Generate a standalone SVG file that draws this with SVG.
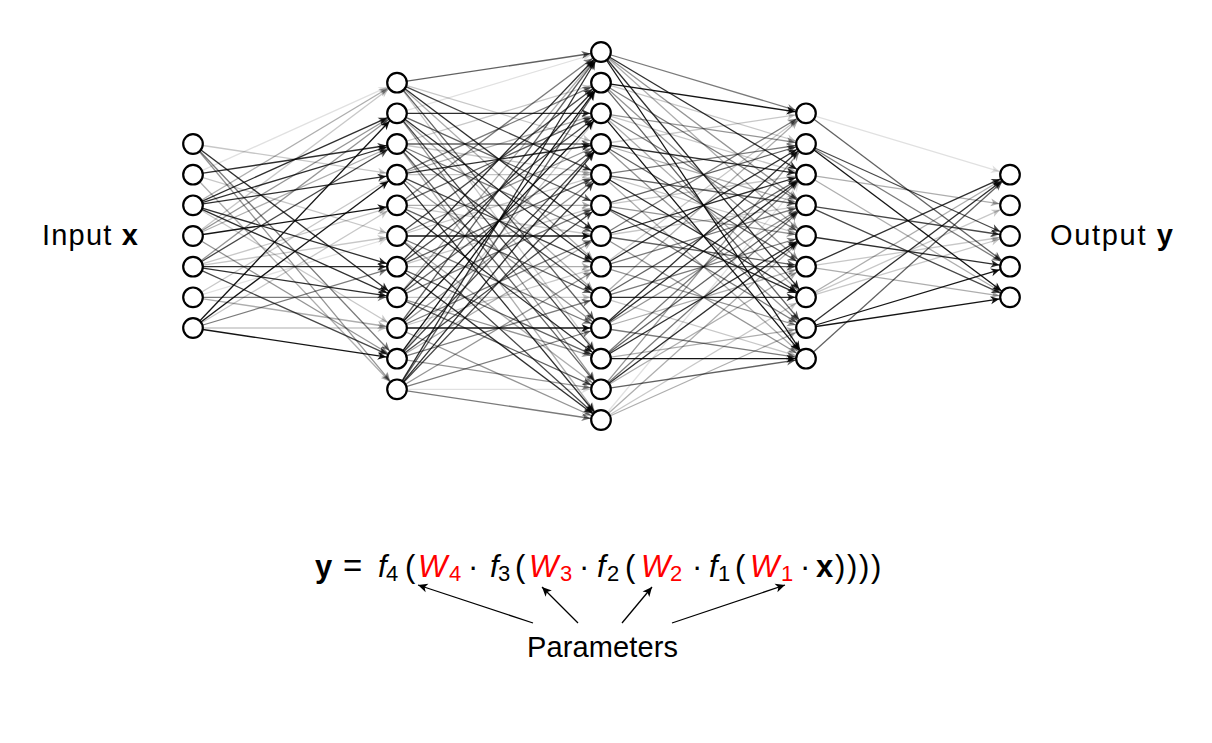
<svg xmlns="http://www.w3.org/2000/svg" width="1212" height="743" viewBox="0 0 1212 743">
<style>
.n{fill:#fff;stroke:#000;stroke-width:2.2}
#edges path{fill:none;stroke:#000;stroke-width:1.3}
.t{font-family:"Liberation Sans",Arial,sans-serif;font-size:29px;fill:#000}
.f{font-size:31px}
.i{font-style:italic}
.b{font-weight:bold}
.s{font-size:22px}
.r{fill:#ff0000}
.eq{font-size:33px}
#edges .pa{fill:none;stroke:#000;stroke-width:1.3;marker-end:url(#pt)}
</style>
<defs>
<marker id="a1" markerUnits="userSpaceOnUse" orient="auto" overflow="visible" markerWidth="1" markerHeight="1"><path d="M-10.8,0L-19.5,-4L-17,0L-19.5,4Z" fill="#000" fill-opacity="0.12"/></marker>
<marker id="a2" markerUnits="userSpaceOnUse" orient="auto" overflow="visible" markerWidth="1" markerHeight="1"><path d="M-10.8,0L-19.5,-4L-17,0L-19.5,4Z" fill="#000" fill-opacity="0.22"/></marker>
<marker id="a3" markerUnits="userSpaceOnUse" orient="auto" overflow="visible" markerWidth="1" markerHeight="1"><path d="M-10.8,0L-19.5,-4L-17,0L-19.5,4Z" fill="#000" fill-opacity="0.32"/></marker>
<marker id="a4" markerUnits="userSpaceOnUse" orient="auto" overflow="visible" markerWidth="1" markerHeight="1"><path d="M-10.8,0L-19.5,-4L-17,0L-19.5,4Z" fill="#000" fill-opacity="0.42"/></marker>
<marker id="a5" markerUnits="userSpaceOnUse" orient="auto" overflow="visible" markerWidth="1" markerHeight="1"><path d="M-10.8,0L-19.5,-4L-17,0L-19.5,4Z" fill="#000" fill-opacity="0.52"/></marker>
<marker id="a6" markerUnits="userSpaceOnUse" orient="auto" overflow="visible" markerWidth="1" markerHeight="1"><path d="M-10.8,0L-19.5,-4L-17,0L-19.5,4Z" fill="#000" fill-opacity="0.62"/></marker>
<marker id="a7" markerUnits="userSpaceOnUse" orient="auto" overflow="visible" markerWidth="1" markerHeight="1"><path d="M-10.8,0L-19.5,-4L-17,0L-19.5,4Z" fill="#000" fill-opacity="0.72"/></marker>
<marker id="a8" markerUnits="userSpaceOnUse" orient="auto" overflow="visible" markerWidth="1" markerHeight="1"><path d="M-10.8,0L-19.5,-4L-17,0L-19.5,4Z" fill="#000" fill-opacity="0.82"/></marker>
<marker id="a9" markerUnits="userSpaceOnUse" orient="auto" overflow="visible" markerWidth="1" markerHeight="1"><path d="M-10.8,0L-19.5,-4L-17,0L-19.5,4Z" fill="#000" fill-opacity="0.92"/></marker>
<marker id="pt" markerUnits="userSpaceOnUse" orient="auto" overflow="visible" markerWidth="1" markerHeight="1"><path d="M0,0L-9.5,-4.4L-7,0L-9.5,4.4Z" fill="#000"/></marker>
</defs>
<rect width="1212" height="743" fill="#fff"/>
<g id="edges">
<g stroke-opacity="0.12" marker-end="url(#a1)">
<path d="M193 297.3L397 236"/><path d="M193 174.7L397 82.7"/>
<path d="M397 113.3L601 52"/><path d="M397 389.3L601 389.3"/>
<path d="M601 420L806 174.7"/>
<path d="M806 113.3L1010 174.7"/>
</g>
<g stroke-opacity="0.22" marker-end="url(#a2)">
<path d="M193 144L397 174.7"/><path d="M193 174.7L397 236"/><path d="M193 205.3L397 328"/><path d="M193 236L397 82.7"/><path d="M193 266.7L397 205.3"/><path d="M193 266.7L397 236"/><path d="M193 297.3L397 174.7"/><path d="M193 328L397 328"/><path d="M193 328L397 205.3"/>
<path d="M397 82.7L601 144"/><path d="M397 82.7L601 358.7"/><path d="M397 144L601 82.7"/><path d="M397 144L601 174.7"/><path d="M397 174.7L601 174.7"/><path d="M397 205.3L601 236"/><path d="M397 236L601 174.7"/><path d="M397 266.7L601 205.3"/><path d="M397 297.3L601 297.3"/><path d="M397 328L601 266.7"/><path d="M397 358.7L601 113.3"/>
<path d="M601 82.7L806 144"/><path d="M601 113.3L806 174.7"/><path d="M601 144L806 113.3"/><path d="M601 174.7L806 236"/><path d="M601 205.3L806 174.7"/><path d="M601 236L806 205.3"/><path d="M601 266.7L806 113.3"/><path d="M601 297.3L806 358.7"/><path d="M601 420L806 297.3"/>
<path d="M806 266.7L1010 236"/><path d="M806 297.3L1010 205.3"/><path d="M806 297.3L1010 236"/>
</g>
<g stroke-opacity="0.32" marker-end="url(#a3)">
<path d="M193 205.3L397 82.7"/><path d="M193 236L397 144"/><path d="M193 297.3L397 328"/><path d="M193 174.7L397 389.3"/>
<path d="M397 82.7L601 266.7"/><path d="M397 113.3L601 297.3"/><path d="M397 144L601 420"/><path d="M397 174.7L601 113.3"/><path d="M397 205.3L601 205.3"/><path d="M397 236L601 389.3"/><path d="M397 266.7L601 266.7"/><path d="M397 297.3L601 52"/><path d="M397 358.7L601 236"/>
<path d="M601 52L806 236"/><path d="M601 113.3L806 297.3"/><path d="M601 144L806 205.3"/><path d="M601 174.7L806 358.7"/><path d="M601 297.3L806 113.3"/><path d="M601 328L806 266.7"/><path d="M601 358.7L806 328"/><path d="M601 389.3L806 266.7"/><path d="M601 420L806 236"/><path d="M601 420L806 328"/>
<path d="M806 174.7L1010 205.3"/><path d="M806 174.7L1010 297.3"/><path d="M806 266.7L1010 297.3"/><path d="M806 297.3L1010 174.7"/>
</g>
<g stroke-opacity="0.42" marker-end="url(#a4)">
<path d="M193 144L397 389.3"/><path d="M193 236L397 113.3"/><path d="M193 236L397 358.7"/><path d="M193 266.7L397 113.3"/>
<path d="M397 113.3L601 389.3"/><path d="M397 174.7L601 328"/><path d="M397 236L601 144"/><path d="M397 297.3L601 358.7"/><path d="M397 328L601 174.7"/><path d="M397 328L601 420"/><path d="M397 358.7L601 389.3"/><path d="M397 389.3L601 266.7"/>
<path d="M601 52L806 205.3"/><path d="M601 82.7L806 266.7"/><path d="M601 113.3L806 144"/><path d="M601 144L806 328"/><path d="M601 205.3L806 236"/><path d="M601 236L806 358.7"/><path d="M601 266.7L806 328"/><path d="M601 328L806 205.3"/><path d="M601 389.3L806 144"/>
</g>
<g stroke-opacity="0.52" marker-end="url(#a5)">
<path d="M193 144L397 358.7"/><path d="M193 297.3L397 297.3"/><path d="M193 328L397 266.7"/>
<path d="M397 144L601 236"/><path d="M397 174.7L601 82.7"/><path d="M397 205.3L601 52"/><path d="M397 236L601 328"/><path d="M397 297.3L601 205.3"/><path d="M397 328L601 236"/><path d="M397 358.7L601 297.3"/><path d="M397 389.3L601 420"/><path d="M397 389.3L601 328"/>
<path d="M601 52L806 113.3"/><path d="M601 82.7L806 205.3"/><path d="M601 113.3L806 236"/><path d="M601 174.7L806 144"/><path d="M601 205.3L806 328"/><path d="M601 236L806 113.3"/><path d="M601 266.7L806 205.3"/><path d="M601 297.3L806 236"/><path d="M601 328L806 358.7"/><path d="M601 358.7L806 174.7"/><path d="M601 389.3L806 205.3"/>
<path d="M806 144L1010 266.7"/>
</g>
<g stroke-opacity="0.62" marker-end="url(#a6)">
<path d="M397 82.7L601 52"/><path d="M397 82.7L601 328"/><path d="M397 113.3L601 205.3"/><path d="M397 144L601 144"/><path d="M397 144L601 389.3"/><path d="M397 205.3L601 113.3"/><path d="M397 205.3L601 297.3"/><path d="M397 266.7L601 174.7"/><path d="M397 266.7L601 358.7"/><path d="M397 297.3L601 144"/><path d="M397 297.3L601 389.3"/><path d="M397 328L601 52"/><path d="M397 389.3L601 82.7"/>
<path d="M601 82.7L806 328"/><path d="M601 144L806 266.7"/><path d="M601 174.7L806 205.3"/><path d="M601 205.3L806 144"/><path d="M601 236L806 266.7"/><path d="M601 266.7L806 266.7"/><path d="M601 297.3L806 174.7"/><path d="M601 358.7L806 205.3"/><path d="M601 389.3L806 358.7"/>
<path d="M806 113.3L1010 266.7"/><path d="M806 358.7L1010 174.7"/>
</g>
<g stroke-opacity="0.72" marker-end="url(#a7)">
<path d="M193 266.7L397 144"/><path d="M193 266.7L397 358.7"/>
<path d="M397 82.7L601 174.7"/><path d="M397 144L601 297.3"/><path d="M397 174.7L601 266.7"/><path d="M397 236L601 82.7"/><path d="M397 236L601 420"/><path d="M397 266.7L601 113.3"/><path d="M397 358.7L601 144"/><path d="M397 358.7L601 205.3"/><path d="M397 389.3L601 174.7"/><path d="M397 113.3L601 358.7"/>
<path d="M806 144L1010 236"/><path d="M806 205.3L1010 236"/><path d="M806 205.3L1010 297.3"/>
</g>
<g stroke-opacity="0.82" marker-end="url(#a8)">
<path d="M193 144L397 297.3"/><path d="M193 174.7L397 144"/><path d="M193 205.3L397 113.3"/><path d="M193 205.3L397 144"/><path d="M193 205.3L397 174.7"/><path d="M193 205.3L397 266.7"/><path d="M193 205.3L397 297.3"/><path d="M193 266.7L397 266.7"/><path d="M193 266.7L397 297.3"/>
<path d="M397 82.7L601 236"/><path d="M397 113.3L601 113.3"/><path d="M397 113.3L601 266.7"/><path d="M397 174.7L601 144"/><path d="M397 174.7L601 420"/><path d="M397 205.3L601 358.7"/><path d="M397 266.7L601 52"/><path d="M397 266.7L601 420"/><path d="M397 297.3L601 82.7"/><path d="M397 389.3L601 52"/><path d="M397 389.3L601 144"/>
<path d="M601 52L806 174.7"/><path d="M601 52L806 297.3"/><path d="M601 144L806 174.7"/><path d="M601 174.7L806 297.3"/><path d="M601 205.3L806 297.3"/><path d="M601 236L806 174.7"/><path d="M601 266.7L806 144"/><path d="M601 297.3L806 297.3"/><path d="M601 328L806 144"/><path d="M601 328L806 174.7"/><path d="M601 358.7L806 236"/><path d="M601 389.3L806 236"/>
<path d="M806 236L1010 266.7"/><path d="M806 266.7L1010 174.7"/><path d="M806 328L1010 174.7"/>
</g>
<g stroke-opacity="0.92" marker-end="url(#a9)">
<path d="M193 236L397 205.3"/><path d="M193 328L397 113.3"/><path d="M193 328L397 174.7"/><path d="M193 328L397 358.7"/>
<path d="M397 236L601 236"/><path d="M397 328L601 328"/><path d="M397 328L601 113.3"/><path d="M397 358.7L601 82.7"/>
<path d="M601 52L806 358.7"/><path d="M601 82.7L806 113.3"/><path d="M601 113.3L806 358.7"/><path d="M601 358.7L806 358.7"/>
<path d="M806 144L1010 297.3"/><path d="M806 328L1010 266.7"/><path d="M806 328L1010 297.3"/>
</g>
<g id="param-arrows">
<path class="pa" d="M533 623L418 585"/>
<path class="pa" d="M578 623L542 587"/>
<path class="pa" d="M622 623L652 587"/>
<path class="pa" d="M672 623L785 585"/>
</g>
</g>
<g id="layer1">
<g id="n1_1"><circle class="n" cx="193" cy="144" r="9.8"/></g>
<g id="n1_2"><circle class="n" cx="193" cy="174.7" r="9.8"/></g>
<g id="n1_3"><circle class="n" cx="193" cy="205.3" r="9.8"/></g>
<g id="n1_4"><circle class="n" cx="193" cy="236" r="9.8"/></g>
<g id="n1_5"><circle class="n" cx="193" cy="266.7" r="9.8"/></g>
<g id="n1_6"><circle class="n" cx="193" cy="297.3" r="9.8"/></g>
<g id="n1_7"><circle class="n" cx="193" cy="328" r="9.8"/></g>
</g>
<g id="layer2">
<g id="n2_1"><circle class="n" cx="397" cy="82.7" r="9.8"/></g>
<g id="n2_2"><circle class="n" cx="397" cy="113.3" r="9.8"/></g>
<g id="n2_3"><circle class="n" cx="397" cy="144" r="9.8"/></g>
<g id="n2_4"><circle class="n" cx="397" cy="174.7" r="9.8"/></g>
<g id="n2_5"><circle class="n" cx="397" cy="205.3" r="9.8"/></g>
<g id="n2_6"><circle class="n" cx="397" cy="236" r="9.8"/></g>
<g id="n2_7"><circle class="n" cx="397" cy="266.7" r="9.8"/></g>
<g id="n2_8"><circle class="n" cx="397" cy="297.3" r="9.8"/></g>
<g id="n2_9"><circle class="n" cx="397" cy="328" r="9.8"/></g>
<g id="n2_10"><circle class="n" cx="397" cy="358.7" r="9.8"/></g>
<g id="n2_11"><circle class="n" cx="397" cy="389.3" r="9.8"/></g>
</g>
<g id="layer3">
<g id="n3_1"><circle class="n" cx="601" cy="52" r="9.8"/></g>
<g id="n3_2"><circle class="n" cx="601" cy="82.7" r="9.8"/></g>
<g id="n3_3"><circle class="n" cx="601" cy="113.3" r="9.8"/></g>
<g id="n3_4"><circle class="n" cx="601" cy="144" r="9.8"/></g>
<g id="n3_5"><circle class="n" cx="601" cy="174.7" r="9.8"/></g>
<g id="n3_6"><circle class="n" cx="601" cy="205.3" r="9.8"/></g>
<g id="n3_7"><circle class="n" cx="601" cy="236" r="9.8"/></g>
<g id="n3_8"><circle class="n" cx="601" cy="266.7" r="9.8"/></g>
<g id="n3_9"><circle class="n" cx="601" cy="297.3" r="9.8"/></g>
<g id="n3_10"><circle class="n" cx="601" cy="328" r="9.8"/></g>
<g id="n3_11"><circle class="n" cx="601" cy="358.7" r="9.8"/></g>
<g id="n3_12"><circle class="n" cx="601" cy="389.3" r="9.8"/></g>
<g id="n3_13"><circle class="n" cx="601" cy="420" r="9.8"/></g>
</g>
<g id="layer4">
<g id="n4_1"><circle class="n" cx="806" cy="113.3" r="9.8"/></g>
<g id="n4_2"><circle class="n" cx="806" cy="144" r="9.8"/></g>
<g id="n4_3"><circle class="n" cx="806" cy="174.7" r="9.8"/></g>
<g id="n4_4"><circle class="n" cx="806" cy="205.3" r="9.8"/></g>
<g id="n4_5"><circle class="n" cx="806" cy="236" r="9.8"/></g>
<g id="n4_6"><circle class="n" cx="806" cy="266.7" r="9.8"/></g>
<g id="n4_7"><circle class="n" cx="806" cy="297.3" r="9.8"/></g>
<g id="n4_8"><circle class="n" cx="806" cy="328" r="9.8"/></g>
<g id="n4_9"><circle class="n" cx="806" cy="358.7" r="9.8"/></g>
</g>
<g id="layer5">
<g id="n5_1"><circle class="n" cx="1010" cy="174.7" r="9.8"/></g>
<g id="n5_2"><circle class="n" cx="1010" cy="205.3" r="9.8"/></g>
<g id="n5_3"><circle class="n" cx="1010" cy="236" r="9.8"/></g>
<g id="n5_4"><circle class="n" cx="1010" cy="266.7" r="9.8"/></g>
<g id="n5_5"><circle class="n" cx="1010" cy="297.3" r="9.8"/></g>
</g>
<g id="input-label"><text class="t" x="42" y="245" textLength="96" lengthAdjust="spacing">Input <tspan class="b">x</tspan></text></g>
<g id="output-label"><text class="t" x="1050" y="245" textLength="123" lengthAdjust="spacing">Output <tspan class="b">y</tspan></text></g>
<g id="formula">
<text class="t f" y="577"><tspan class="b" x="315">y</tspan><tspan class="eq" x="343">=</tspan><tspan class="i" x="378">f</tspan><tspan class="s" x="386" dy="4">4</tspan><tspan x="405" dy="-4">(</tspan><tspan class="i r" x="418">W</tspan><tspan class="s r" x="449" dy="4">4</tspan><tspan x="468" dy="-4">·</tspan><tspan class="i" x="490">f</tspan><tspan class="s" x="498" dy="4">3</tspan><tspan x="515" dy="-4">(</tspan><tspan class="i r" x="529">W</tspan><tspan class="s r" x="560" dy="4">3</tspan><tspan x="579" dy="-4">·</tspan><tspan class="i" x="597">f</tspan><tspan class="s" x="607" dy="4">2</tspan><tspan x="625" dy="-4">(</tspan><tspan class="i r" x="641">W</tspan><tspan class="s r" x="670" dy="4">2</tspan><tspan x="692" dy="-4">·</tspan><tspan class="i" x="709">f</tspan><tspan class="s" x="718" dy="4">1</tspan><tspan x="735" dy="-4">(</tspan><tspan class="i r" x="750">W</tspan><tspan class="s r" x="781" dy="4">1</tspan><tspan x="800" dy="-4">·</tspan><tspan class="b" x="816">x</tspan><tspan x="835">)</tspan><tspan x="847">)</tspan><tspan x="859">)</tspan><tspan x="871">)</tspan></text>
<text class="t" x="527" y="657" textLength="151" lengthAdjust="spacing">Parameters</text>
</g>
</svg>
